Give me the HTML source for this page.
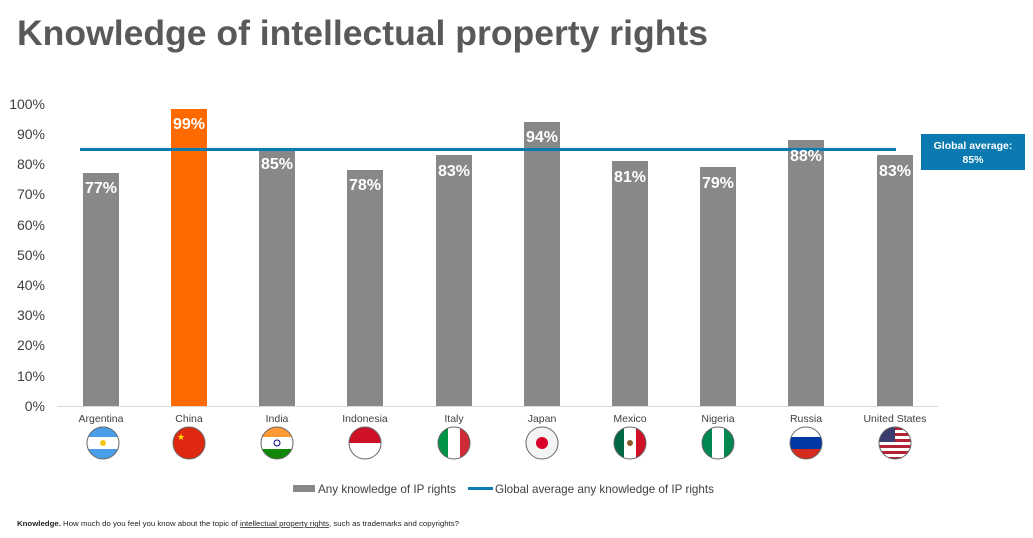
<!DOCTYPE html>
<html><head><meta charset="utf-8"><style>
body{margin:0;width:1033px;height:533px;background:#fff;overflow:hidden;font-family:"Liberation Sans",Arial,sans-serif;}
</style></head><body>
<svg width="1033" height="533" xmlns="http://www.w3.org/2000/svg" font-family="Liberation Sans, Arial, sans-serif">
<text x="17" y="45" font-size="35.5" font-weight="bold" fill="#595959" textLength="691" lengthAdjust="spacingAndGlyphs">Knowledge of intellectual property rights</text>
<g font-size="14" fill="#404040" text-anchor="end">
<text x="45" y="411">0%</text><text x="45" y="381">10%</text><text x="45" y="350">20%</text><text x="45" y="320">30%</text><text x="45" y="290">40%</text><text x="45" y="260">50%</text><text x="45" y="230">60%</text><text x="45" y="199">70%</text><text x="45" y="169">80%</text><text x="45" y="139">90%</text><text x="45" y="109">100%</text>
</g>
<line x1="57" y1="406.5" x2="938" y2="406.5" stroke="#d9d9d9" stroke-width="1"/>
<g fill="#878889">
<rect x="83" y="173" width="36" height="233"/>
<rect x="259" y="149" width="36" height="257"/>
<rect x="347" y="170" width="36" height="236"/>
<rect x="436" y="155" width="36" height="251"/>
<rect x="524" y="122" width="36" height="284"/>
<rect x="612" y="161" width="36" height="245"/>
<rect x="700" y="167" width="36" height="239"/>
<rect x="788" y="140" width="36" height="266"/>
<rect x="877" y="155" width="36" height="251"/>
</g>
<rect x="171" y="109" width="36" height="297" fill="#ff6a00"/>
<line x1="80" y1="149.5" x2="896" y2="149.5" stroke="#0a7ab0" stroke-width="3"/>
<rect x="921" y="134" width="104" height="36" fill="#0a7ab0"/>
<text x="973" y="149" font-size="10.5" font-weight="bold" fill="#fff" text-anchor="middle">Global average:</text>
<text x="973" y="163" font-size="10.5" font-weight="bold" fill="#fff" text-anchor="middle">85%</text>
<g font-size="16" font-weight="bold" fill="#fff" text-anchor="middle">
<text x="101" y="193">77%</text><text x="189" y="129">99%</text><text x="277" y="169">85%</text><text x="365" y="190">78%</text><text x="454" y="176">83%</text><text x="542" y="142">94%</text><text x="630" y="182">81%</text><text x="718" y="188">79%</text><text x="806" y="161">88%</text><text x="895" y="176">83%</text>
</g>
<g font-size="10.5" fill="#404040" text-anchor="middle">
<text x="101" y="422">Argentina</text><text x="189" y="422">China</text><text x="277" y="422">India</text><text x="365" y="422">Indonesia</text><text x="454" y="422">Italy</text><text x="542" y="422">Japan</text><text x="630" y="422">Mexico</text><text x="718" y="422">Nigeria</text><text x="806" y="422">Russia</text><text x="895" y="422">United States</text>
</g>
<defs>
<clipPath id="c1"><circle cx="103" cy="443" r="16"/></clipPath>
<clipPath id="c2"><circle cx="189" cy="443" r="16"/></clipPath>
<clipPath id="c3"><circle cx="277" cy="443" r="16"/></clipPath>
<clipPath id="c4"><circle cx="365" cy="443" r="16"/></clipPath>
<clipPath id="c5"><circle cx="454" cy="443" r="16"/></clipPath>
<clipPath id="c7"><circle cx="630" cy="443" r="16"/></clipPath>
<clipPath id="c8"><circle cx="718" cy="443" r="16"/></clipPath>
<clipPath id="c9"><circle cx="806" cy="443" r="16"/></clipPath>
<clipPath id="c10"><circle cx="895" cy="443" r="16"/></clipPath>
</defs>
<g clip-path="url(#c1)"><rect x="85" y="425" width="36" height="36" fill="#fff"/><rect x="85" y="425" width="36" height="12" fill="#4a9ee8"/><rect x="85" y="449" width="36" height="12" fill="#4a9ee8"/><circle cx="103" cy="443" r="3" fill="#f5c518"/></g>
<g clip-path="url(#c2)"><rect x="171" y="425" width="36" height="36" fill="#de2910"/><text x="181" y="440" font-size="9" fill="#ffde00" text-anchor="middle">★</text></g>
<g clip-path="url(#c3)"><rect x="259" y="425" width="36" height="12" fill="#ff9933"/><rect x="259" y="437" width="36" height="12" fill="#fff"/><rect x="259" y="449" width="36" height="12" fill="#138808"/><circle cx="277" cy="443" r="3" fill="none" stroke="#000080"/></g>
<g clip-path="url(#c4)"><rect x="347" y="425" width="36" height="18" fill="#ce1126"/><rect x="347" y="443" width="36" height="18" fill="#fff"/></g>
<g clip-path="url(#c5)"><rect x="436" y="425" width="12" height="36" fill="#009246"/><rect x="448" y="425" width="12" height="36" fill="#fff"/><rect x="460" y="425" width="12" height="36" fill="#ce2b37"/></g>
<circle cx="542" cy="443" r="16" fill="#f4f4f4"/><circle cx="542" cy="443" r="6" fill="#d80027"/>
<g clip-path="url(#c7)"><rect x="612" y="425" width="12" height="36" fill="#006847"/><rect x="624" y="425" width="12" height="36" fill="#fff"/><rect x="636" y="425" width="12" height="36" fill="#ce1126"/><circle cx="630" cy="443" r="3" fill="#8b5a2b"/></g>
<g clip-path="url(#c8)"><rect x="700" y="425" width="12" height="36" fill="#008751"/><rect x="712" y="425" width="12" height="36" fill="#fff"/><rect x="724" y="425" width="12" height="36" fill="#008751"/></g>
<g clip-path="url(#c9)"><rect x="788" y="425" width="36" height="12" fill="#fff"/><rect x="788" y="437" width="36" height="12" fill="#0039a6"/><rect x="788" y="449" width="36" height="12" fill="#d52b1e"/></g>
<g clip-path="url(#c10)"><rect x="877" y="425" width="36" height="36" fill="#fff"/><rect x="877" y="427" width="36" height="3" fill="#b22234"/><rect x="877" y="433" width="36" height="3" fill="#b22234"/><rect x="877" y="439" width="36" height="3" fill="#b22234"/><rect x="877" y="445" width="36" height="3" fill="#b22234"/><rect x="877" y="451" width="36" height="3" fill="#b22234"/><rect x="877" y="457" width="36" height="3" fill="#b22234"/><rect x="877" y="425" width="18" height="17" fill="#3c3b6e"/></g>
<g fill="none" stroke="#666" stroke-width="1">
<circle cx="103" cy="443" r="16"/><circle cx="189" cy="443" r="16"/><circle cx="277" cy="443" r="16"/><circle cx="365" cy="443" r="16"/><circle cx="454" cy="443" r="16"/><circle cx="542" cy="443" r="16"/><circle cx="630" cy="443" r="16"/><circle cx="718" cy="443" r="16"/><circle cx="806" cy="443" r="16"/><circle cx="895" cy="443" r="16"/>
</g>
<rect x="293" y="485" width="22" height="7" fill="#878889"/>
<text x="318" y="493" font-size="12" fill="#404040" textLength="138" lengthAdjust="spacingAndGlyphs">Any knowledge of IP rights</text>
<line x1="468" y1="488.5" x2="493" y2="488.5" stroke="#0a7ab0" stroke-width="3"/>
<text x="495" y="493" font-size="12" fill="#404040" textLength="219" lengthAdjust="spacingAndGlyphs">Global average any knowledge of IP rights</text>
<text x="17" y="526" font-size="7.5" fill="#222" textLength="442" lengthAdjust="spacingAndGlyphs"><tspan font-weight="bold">Knowledge.</tspan> How much do you feel you know about the topic of <tspan text-decoration="underline">intellectual property rights</tspan>, such as trademarks and copyrights?</text>
</svg>
</body></html>
